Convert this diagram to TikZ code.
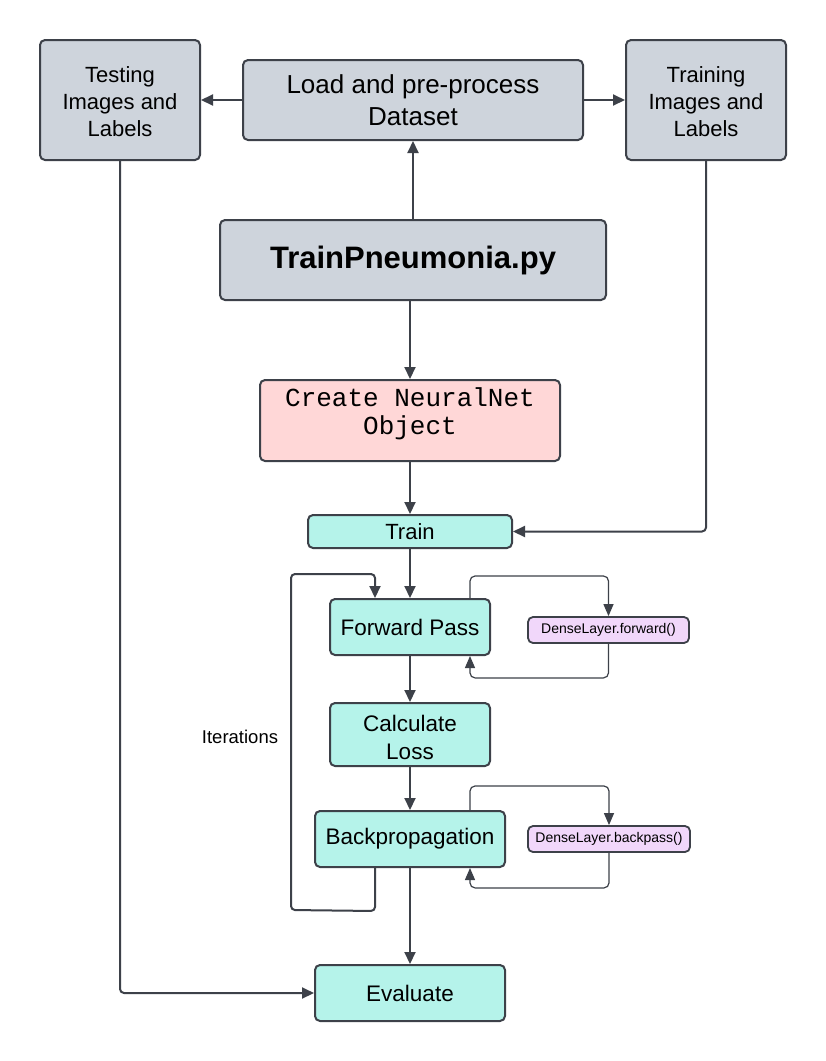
\documentclass[tikz,border=0pt]{standalone}
\usepackage{fontspec}
\setmainfont{Liberation Sans}
\setmonofont{Liberation Mono}
\usetikzlibrary{arrows.meta}
\definecolor{edge}{HTML}{3D4149}
\definecolor{grayfill}{HTML}{CED4DC}
\definecolor{pinkfill}{HTML}{FFD7D7}
\definecolor{tealfill}{HTML}{B5F3EA}
\definecolor{lavfill}{HTML}{F1D7FA}
\tikzset{
  box/.style={draw=edge, line width=2pt, rounded corners=5pt, align=center, inner sep=0pt, text=black},
  graybox/.style={box, fill=grayfill},
  pinkbox/.style={box, fill=pinkfill},
  tealbox/.style={box, fill=tealfill},
  lavbox/.style={box, fill=lavfill, line width=1.8pt},
  txt/.style={align=center, inner sep=0pt, text=black},
  arr/.style={draw=edge, line width=2pt, -{Triangle[length=12pt,width=11pt]}, rounded corners=4pt},
  thinarr/.style={draw=edge, line width=1.2pt, -{Triangle[length=12pt,width=10pt]}, rounded corners=5pt},
}
\begin{document}
\begin{tikzpicture}[x=1pt,y=-1pt]
\useasboundingbox (0,0) rectangle (826,1061);
\fill[white] (0,0) rectangle (826,1061);

\node[graybox, minimum width=160, minimum height=120] (test) at (120,100) {};
\node[txt, font=\fontsize{22}{27}\selectfont] (testtxt) at (120,102) {Testing\\Images and\\Labels};
\node[graybox, minimum width=340, minimum height=80, font=\fontsize{26}{32}\selectfont] (load) at (413,100) {Load and pre-process\\Dataset};
\node[graybox, minimum width=160, minimum height=120] (trimg) at (706,100) {};
\node[txt, font=\fontsize{22}{27}\selectfont] (trimgtxt) at (706,102) {Training\\Images and\\Labels};
\node[graybox, minimum width=386, minimum height=80, font=\fontsize{31}{36}\selectfont\bfseries] (tp) at (413,260) {TrainPneumonia.py};
\node[pinkbox, minimum width=300, minimum height=81] (create) at (410,420.5) {};
\node[txt, font=\fontsize{26}{28}\selectfont\ttfamily] (createtxt) at (410,414) {Create NeuralNet\\Object};
\node[tealbox, minimum width=204, minimum height=33, font=\fontsize{22}{26}\selectfont] (train) at (410,531.5) {Train};
\node[tealbox, minimum width=160, minimum height=56, font=\fontsize{22.5}{26}\selectfont] (fp) at (410,627) {Forward Pass};
\node[lavbox, minimum width=161, minimum height=26, font=\fontsize{14}{16}\selectfont] (dlf) at (608.5,630) {DenseLayer.forward()};
\node[tealbox, minimum width=160, minimum height=63] (calc) at (410,734.5) {};
\node[txt, font=\fontsize{22.5}{28}\selectfont] (calctxt) at (410,737) {Calculate\\Loss};
\node[tealbox, minimum width=190, minimum height=56, font=\fontsize{22.5}{26}\selectfont] (bp) at (410,839) {Backpropagation};
\node[lavbox, minimum width=162, minimum height=26, font=\fontsize{14}{16}\selectfont] (dlb) at (609,839) {DenseLayer.backpass()};
\node[tealbox, minimum width=190, minimum height=56, font=\fontsize{22.5}{26}\selectfont] (eval) at (410,993) {Evaluate};
\node[font=\fontsize{18.5}{20}\selectfont, inner sep=0pt] (iter) at (240,737) {Iterations};

\draw[arr] (tp.north) -- (load.south);
\draw[arr] (load.west) -- (test.east);
\draw[arr] (load.east) -- (trimg.west);
\draw[arr] (tp.south -| create.north) -- (create.north);
\draw[arr] (create.south) -- (train.north);
\draw[arr] (trimg.south) |- (train.east);
\draw[arr] (train.south) -- (fp.north);
\draw[arr] (fp.south) -- (calc.north);
\draw[arr] (calc.south) -- (bp.north);
\draw[arr] (bp.south) -- (eval.north);
\draw[arr] (test.south) |- (eval.west);
\draw[arr] ([xshift=-35pt]bp.south) -- ++(0,43) -- (291,910) -- (291,574) -| ([xshift=-35pt]fp.north);
\draw[thinarr] ([xshift=60pt]fp.north) -- ++(0,-22) -| (dlf.north);
\draw[thinarr] (dlf.south) -- ++(0,34) -| ([xshift=60pt]fp.south);
\draw[thinarr] ([xshift=60pt]bp.north) -- ++(0,-24) -| (dlb.north);
\draw[thinarr] (dlb.south) -- ++(0,35) -| ([xshift=60pt]bp.south);
\end{tikzpicture}
\end{document}
